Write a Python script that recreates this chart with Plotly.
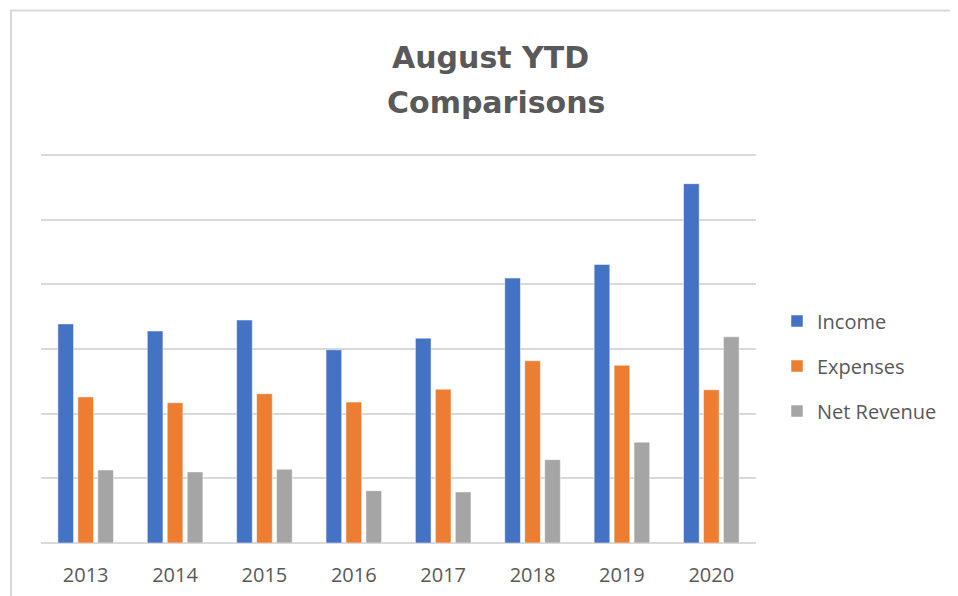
import plotly.graph_objects as go

years = ["2013", "2014", "2015", "2016", "2017", "2018", "2019", "2020"]
income = [3.39, 3.28, 3.45, 2.99, 3.17, 4.10, 4.31, 5.56]
expenses = [2.26, 2.17, 2.31, 2.18, 2.38, 2.82, 2.75, 2.37]
net_revenue = [1.13, 1.10, 1.14, 0.81, 0.79, 1.29, 1.56, 3.19]

series_names = ["Income", "Expenses", "Net Revenue"]
colors = ["#4472C4", "#ED7D31", "#A5A5A5"]
title_lines = ["August YTD", "Comparisons"]

# the page body has an 8px margin, so the figure is laid out 8px in from the window
W, H = 950, 588
Y_MAX = 6.05
UNIT = 64.7
PLOT_BOTTOM = 535
PLOT_TOP = PLOT_BOTTOM - Y_MAX * UNIT
PLOT_LEFT, PLOT_RIGHT = 33, 748
plot_h = PLOT_BOTTOM - PLOT_TOP
plot_w = PLOT_RIGHT - PLOT_LEFT

def paper_y(px):
    return (PLOT_BOTTOM - px) / plot_h

def paper_x(px):
    return (px - PLOT_LEFT) / plot_w

fig = go.Figure()
for name, vals, col in zip(series_names, [income, expenses, net_revenue], colors):
    fig.add_trace(go.Bar(
        x=years, y=vals, name=name, legendgroup=name,
        marker=dict(color=col, line=dict(color="rgba(255,255,255,0.5)", width=1)),
    ))

annotations = []
for line, ypx, xpx in zip(title_lines, [49, 94], [482, 488]):
    annotations.append(dict(
        text="<b>%s</b>" % line, xref="paper", yref="paper",
        x=paper_x(xpx), y=paper_y(ypx), xanchor="center", yanchor="middle",
        showarrow=False,
        font=dict(family="DejaVu Sans, sans-serif", size=30, color="#595959"),
    ))

fig.update_layout(
    width=W, height=H,
    margin=dict(l=PLOT_LEFT, r=W - PLOT_RIGHT, t=PLOT_TOP, b=H - PLOT_BOTTOM, autoexpand=False),
    paper_bgcolor="white", plot_bgcolor="white",
    barmode="group", bargap=0.33, bargroupgap=0.215,
    font=dict(family="Open Sans, sans-serif", color="#595959"),
    annotations=annotations,
    legend=dict(
        xref="container", yref="container",
        x=769 / W, xanchor="left", y=(H - 358) / H, yanchor="middle",
        font=dict(size=20, color="#595959"),
        itemwidth=30, tracegroupgap=16,
    ),
    xaxis=dict(
        showgrid=False, showline=False, ticks="", automargin=False,
        tickfont=dict(size=20, color="#595959"), ticklabelstandoff=18,
    ),
    yaxis=dict(
        range=[0, Y_MAX], dtick=1, showticklabels=False, automargin=False,
        showgrid=True, gridcolor="#D9D9D9", gridwidth=1.5,
        zeroline=True, zerolinecolor="#D9D9D9", zerolinewidth=1.5,
        showline=False, ticks="",
    ),
    shapes=[dict(
        type="rect", xref="paper", yref="paper",
        x0=paper_x(3), x1=2.0, y0=-1.0, y1=paper_y(2),
        line=dict(color="#D9D9D9", width=2), fillcolor="rgba(0,0,0,0)", layer="below",
    )],
)

fig.write_html("out.html")
